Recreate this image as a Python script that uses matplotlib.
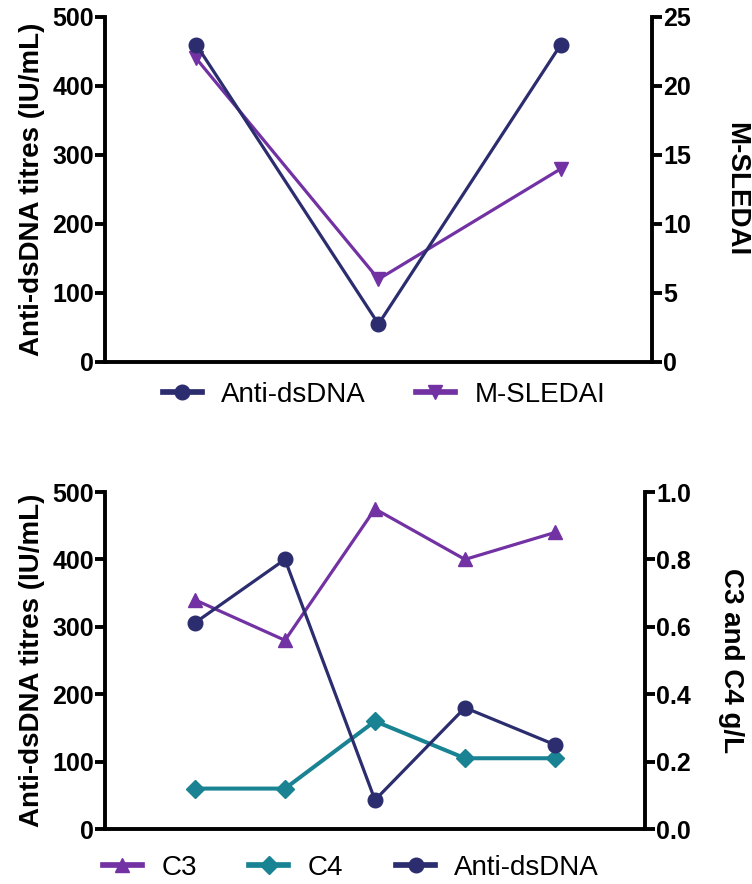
import numpy as np
import matplotlib
matplotlib.use("Agg")
import matplotlib.pyplot as plt
from matplotlib.lines import Line2D

plt.rcParams["font.family"] = ["Liberation Sans", "DejaVu Sans"]

# -------------------- Data --------------------
# top panel: three visits
top_anti_dsdna = [460, 55, 460]
top_msledai = [22, 6, 14]

# bottom panel: five visits
bot_anti_dsdna = [306, 400, 43, 180, 125]
bot_c3 = [0.68, 0.56, 0.95, 0.80, 0.88]
bot_c4 = [0.12, 0.12, 0.32, 0.21, 0.21]

NAVY = "#2b2d6e"
PURPLE = "#7232a3"
TEAL = "#1a8393"

SPINE_W = 2.8
LINE_W = 2.3
MS = 10.5
TICK_FS = 18
LABEL_FS = 20
LEG_FS = 20


def style_axes(ax, twin):
    ax.spines["top"].set_visible(False)
    for s in ["left", "bottom", "right"]:
        ax.spines[s].set_linewidth(SPINE_W)
    ax.tick_params(axis="x", bottom=False, labelbottom=False)
    ax.tick_params(axis="y", length=7, width=SPINE_W, labelsize=TICK_FS, pad=1)
    for lab in ax.get_yticklabels():
        lab.set_fontweight("bold")
    if not twin:
        ax.spines["right"].set_visible(False)
    else:
        ax.spines["left"].set_visible(False)
        ax.spines["bottom"].set_visible(False)


fig = plt.figure(figsize=(7.52, 8.84), dpi=100)

# -------------------- Top panel --------------------
ax1 = fig.add_axes([0.1396, 0.5905, 0.7274, 0.3903])
ax1r = ax1.twinx()
x_top = np.arange(len(top_anti_dsdna))

ax1r.plot(x_top, top_msledai, "-", color=PURPLE, lw=LINE_W, marker="v",
          ms=MS, zorder=2)
ax1.plot(x_top, top_anti_dsdna, "-", color=NAVY, lw=LINE_W, marker="o",
         ms=MS, zorder=3)
ax1.set_zorder(ax1r.get_zorder() + 1)
ax1.patch.set_visible(False)

ax1.set_xlim(-0.5, 2.5)
ax1.set_ylim(0, 500)
ax1.set_yticks([0, 100, 200, 300, 400, 500])
ax1r.set_ylim(0, 25)
ax1r.set_yticks([0, 5, 10, 15, 20, 25])
style_axes(ax1, False)
style_axes(ax1r, True)
ax1.set_ylabel("Anti-dsDNA titres (IU/mL)", fontsize=LABEL_FS,
               fontweight="bold", labelpad=5)
ax1r.set_ylabel("M-SLEDAI", fontsize=LABEL_FS, fontweight="bold",
                rotation=270, labelpad=42)

h_top = [
    Line2D([], [], color=NAVY, lw=LINE_W + 1.8, marker="o", ms=MS),
    Line2D([], [], color=PURPLE, lw=LINE_W + 1.8, marker="v", ms=MS),
]
fig.legend(h_top, ["Anti-dsDNA", "M-SLEDAI"], loc="center",
           bbox_to_anchor=(384 / 752, 1 - 395 / 884), ncol=2, frameon=False,
           fontsize=LEG_FS, handlelength=1.4, handletextpad=0.7,
           columnspacing=1.8)

# -------------------- Bottom panel --------------------
ax2 = fig.add_axes([0.1396, 0.0622, 0.7181, 0.3812])
ax2r = ax2.twinx()
x_bot = np.arange(len(bot_anti_dsdna))

ax2r.plot(x_bot, bot_c3, "-", color=PURPLE, lw=LINE_W, marker="^", ms=MS,
          zorder=2)
ax2r.plot(x_bot, bot_c4, "-", color=TEAL, lw=LINE_W + 0.6, marker="D",
          ms=MS - 1.5, zorder=2)
ax2.plot(x_bot, bot_anti_dsdna, "-", color=NAVY, lw=LINE_W, marker="o",
         ms=MS, zorder=3)
ax2.set_zorder(ax2r.get_zorder() + 1)
ax2.patch.set_visible(False)

ax2.set_xlim(-1, 5)
ax2.set_ylim(0, 500)
ax2.set_yticks([0, 100, 200, 300, 400, 500])
ax2r.set_ylim(0, 1.0)
ax2r.set_yticks([0.0, 0.2, 0.4, 0.6, 0.8, 1.0])
ax2r.set_yticklabels(["0.0", "0.2", "0.4", "0.6", "0.8", "1.0"])
style_axes(ax2, False)
style_axes(ax2r, True)
ax2.set_ylabel("Anti-dsDNA titres (IU/mL)", fontsize=LABEL_FS,
               fontweight="bold", labelpad=5)
ax2r.set_ylabel("C3 and C4 g/L", fontsize=LABEL_FS, fontweight="bold",
                rotation=270, labelpad=38)

h_bot = [
    Line2D([], [], color=PURPLE, lw=LINE_W + 1.8, marker="^", ms=MS),
    Line2D([], [], color=TEAL, lw=LINE_W + 1.8, marker="D", ms=MS - 1.5),
    Line2D([], [], color=NAVY, lw=LINE_W + 1.8, marker="o", ms=MS),
]
fig.legend(h_bot, ["C3", "C4", "Anti-dsDNA"], loc="center",
           bbox_to_anchor=(351 / 752, 1 - 868 / 884), ncol=3, frameon=False,
           fontsize=LEG_FS, handlelength=1.4, handletextpad=0.7,
           columnspacing=1.9)

fig.savefig("out.png", dpi=100)
